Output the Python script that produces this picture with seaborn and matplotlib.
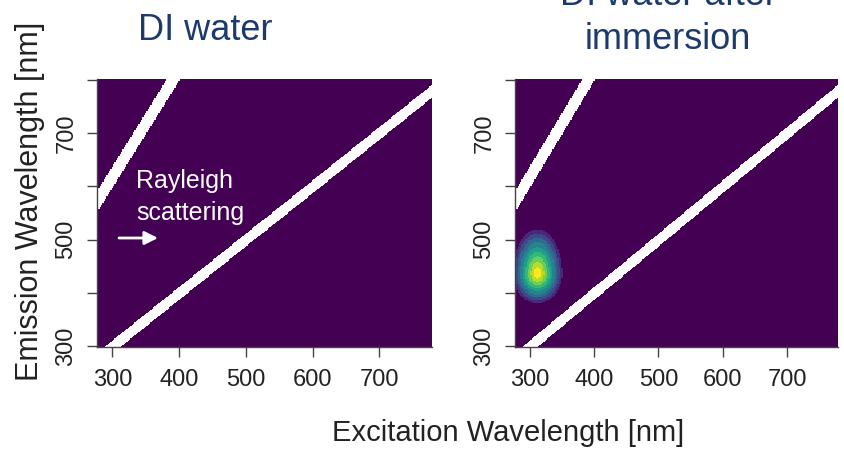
import numpy as np
import pandas as pd
import matplotlib
matplotlib.use("Agg")
import matplotlib.pyplot as plt
import seaborn as sns
from matplotlib.colors import ListedColormap

# ---------------- data ----------------
excitation_nm = np.arange(278, 780, 2)      # grid of excitation wavelengths
emission_nm = np.arange(300, 802, 2)        # grid of emission wavelengths
panel_titles = ["DI water", "DI water after\nimmersion"]

# fluorescence peak seen after immersion
peak_present = [False, True]
peak_excitation = 312
peak_emission = 436
peak_reach_excitation = 42      # nm from centre to the outer contour
peak_reach_emission_up = 92
peak_reach_emission_down = 60

# removed scattering bands (emission - k*excitation within these offsets)
rayleigh1_offsets = (-13, 11)
rayleigh2_offsets = (-3, 37)

x_ticks = [300, 400, 500, 600, 700]
y_ticks = [300, 400, 500, 600, 700, 800]
y_tick_labels = ["300", "", "500", "", "700", ""]
n_levels = 10

# ---------------- style ----------------
sns.set_style("ticks")
plt.rcParams["font.family"] = ["Liberation Sans", "DejaVu Sans"]

fig = plt.figure(figsize=(8.45, 4.49), dpi=100)
axes_rects = [
    [97 / 845, 1 - 347 / 449, (432 - 97) / 845, (347 - 79) / 449],
    [515 / 845, 1 - 347 / 449, (838 - 515) / 845, (347 - 79) / 449],
]

EX, EM = np.meshgrid(excitation_nm, emission_nm)
d1 = EM - EX
d2 = EM - 2 * EX
scatter_mask = ((d1 >= rayleigh1_offsets[0]) & (d1 <= rayleigh1_offsets[1])) | \
               ((d2 >= rayleigh2_offsets[0]) & (d2 <= rayleigh2_offsets[1]))

cmap = ListedColormap(plt.get_cmap("viridis")(np.linspace(0, 1, n_levels)))

def xpos(w):
    return (np.asarray(w) - (excitation_nm[0] - 1)) / 2.0

def ypos(w):
    return (np.asarray(w) - (emission_nm[0] - 1)) / 2.0

for i, rect in enumerate(axes_rects):
    ax = fig.add_axes(rect)
    Z = np.zeros_like(EX, dtype=float)
    if peak_present[i]:
        zx = (EX - peak_excitation) / peak_reach_excitation
        reach_em = np.where(EM >= peak_emission, peak_reach_emission_up,
                            peak_reach_emission_down)
        zy = (EM - peak_emission) / reach_em
        r = np.sqrt(zx ** 2 + zy ** 2)
        Z = np.clip(1 - r ** 1.15, 0, 1) * 0.999
    df = pd.DataFrame(Z, index=emission_nm, columns=excitation_nm)
    sns.heatmap(df, mask=scatter_mask, cmap=cmap, vmin=0, vmax=1, cbar=False,
                xticklabels=False, yticklabels=False, ax=ax)
    ax.invert_yaxis()
    ax.set_facecolor("white")
    ax.set_xlabel("")
    ax.set_ylabel("")
    ax.set_xticks(xpos(x_ticks))
    ax.set_xticklabels([str(t) for t in x_ticks], fontsize=17, color="#222222")
    ax.set_yticks(ypos(y_ticks))
    ax.set_yticklabels(y_tick_labels, fontsize=17, color="#222222",
                       rotation=90, va="center")
    ax.tick_params(axis="x", length=7, width=1, color="#444444", pad=9, direction="out",
                   bottom=True)
    ax.tick_params(axis="y", length=7, width=1, color="#444444", pad=7, direction="out",
                   left=True)
    for s in ["left", "bottom"]:
        ax.spines[s].set_visible(True)
        ax.spines[s].set_color("#444444")
        ax.spines[s].set_linewidth(1)
    for s in ["top", "right"]:
        ax.spines[s].set_visible(False)

# titles
title_color = "#1c3a6b"
fig.text(205 / 845, 1 - 40 / 449, panel_titles[0], ha="center", va="baseline",
         fontsize=26, color=title_color)
fig.text(668 / 845, 1 - 49 / 449, panel_titles[1], ha="center", va="baseline",
         fontsize=26, color=title_color, linespacing=1.33)

# axis labels
fig.text(508 / 845, 1 - 441 / 449, "Excitation Wavelength [nm]", ha="center",
         va="baseline", fontsize=21, color="#222222")
fig.text(30 / 845, 1 - 201 / 449, "Emission Wavelength [nm]", ha="center",
         va="center", rotation=90, fontsize=22, color="#222222")

# annotation
fig.text(136 / 845, 1 - 220 / 449, "Rayleigh\nscattering", ha="left", va="baseline",
         fontsize=18, color="white", linespacing=1.4)
fig.add_artist(matplotlib.patches.FancyArrowPatch(
    (119 / 845, 1 - 238 / 449), (158 / 845, 1 - 238 / 449),
    transform=fig.transFigure, arrowstyle="-|>", color="white", lw=2,
    mutation_scale=20, shrinkA=0, shrinkB=0))

fig.savefig("out.png", dpi=100)
